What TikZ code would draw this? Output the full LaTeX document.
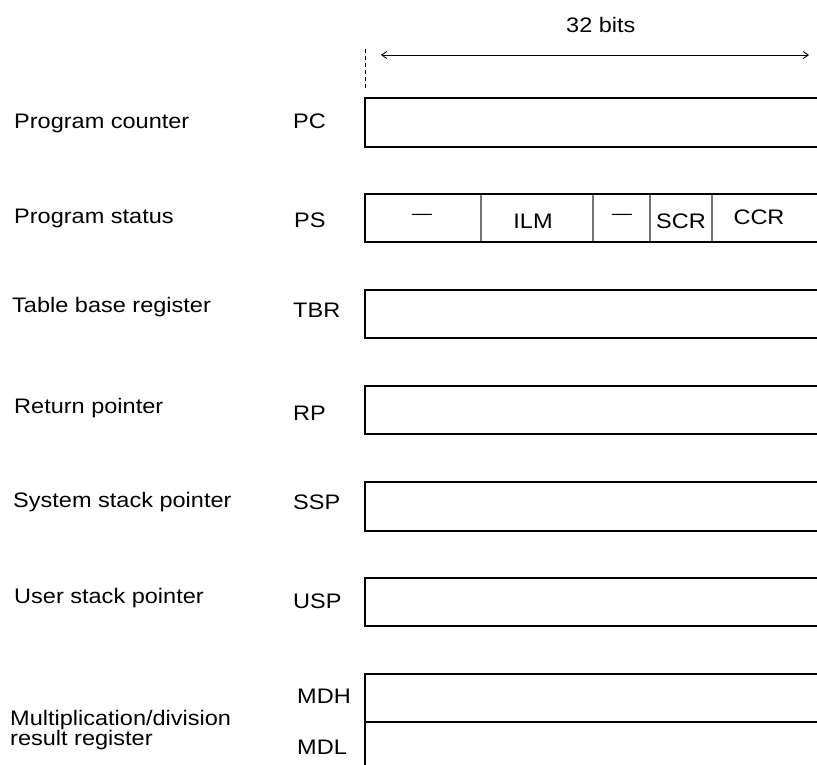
\documentclass[tikz,border=0pt]{standalone}
\usepackage{fontspec}
\setmainfont[FakeStretch=1.12]{Liberation Sans}
\usetikzlibrary{arrows.meta}
\begin{document}
\begin{tikzpicture}[x=1pt,y=-1pt,
  regline/.style={line width=1.4pt,black},
  fieldsep/.style={line width=1.4pt,black!55},
  txt/.style={anchor=base west,inner sep=0pt,font=\fontsize{21}{21}\selectfont},
  ctxt/.style={anchor=base,inner sep=0pt,font=\fontsize{21}{21}\selectfont},
  span/.style={line width=0.9pt,{Straight Barb[length=5pt,width=7pt]}-{Straight Barb[length=5pt,width=7pt]}}]
\useasboundingbox (0,0) rectangle (817,765);

% width marker
\node[txt] (bits) at (566,33) {32 bits};
\coordinate (spanL) at (381,55);
\coordinate (spanR) at (809,55);
\draw[span] (spanL) -- (spanR);
\coordinate (tickT) at (365,49);
\coordinate (tickB) at (365,89);
\draw[line width=0.9pt,dash pattern=on 4pt off 3pt] (tickT) -- (tickB);

% register rows (boxes run off the right edge)
\foreach \t/\b in {98/147,194/242,290/338,386/434,482/531,578/626}
  \draw[regline] (817,\t) -- (365,\t) -- (365,\b) -- (817,\b);
\draw[regline] (817,674) -- (365,674) -- (365,765);
\draw[regline] (365,722) -- (817,722);

% PS fields
\foreach \x in {481,593,650,712}
  \draw[fieldsep] (\x,194.7) -- (\x,241.3);
\node[anchor=center,inner sep=0pt,font=\fontsize{18}{18}\selectfont] (f1) at (422,217) {—};
\node[ctxt] (f2) at (533,228) {ILM};
\node[anchor=center,inner sep=0pt,font=\fontsize{18}{18}\selectfont] (f3) at (622,217) {—};
\node[ctxt] (f4) at (681,228) {SCR};
\node[ctxt] (f5) at (759,225) {CCR};

% names
\node[txt] (nPC)  at (14,129) {Program counter};
\node[txt] (aPC)  at (293,129) {PC};
\node[txt] (nPS)  at (14,223) {Program status};
\node[txt] (aPS)  at (294,227) {PS};
\node[txt] (nTBR) at (12,312) {Table base register};
\node[txt] (aTBR) at (293,317) {TBR};
\node[txt] (nRP)  at (14,413) {Return pointer};
\node[txt] (aRP)  at (293,420) {RP};
\node[txt] (nSSP) at (13,507) {System stack pointer};
\node[txt] (aSSP) at (293,509) {SSP};
\node[txt] (nUSP) at (14,603) {User stack pointer};
\node[txt] (aUSP) at (293,608) {USP};
\node[txt] (nMD1) at (10,725) {Multiplication/division};
\node[txt] (nMD2) at (10,745) {result register};
\node[txt] (aMDH) at (297,703) {MDH};
\node[txt] (aMDL) at (297,754) {MDL};
\end{tikzpicture}
\end{document}
